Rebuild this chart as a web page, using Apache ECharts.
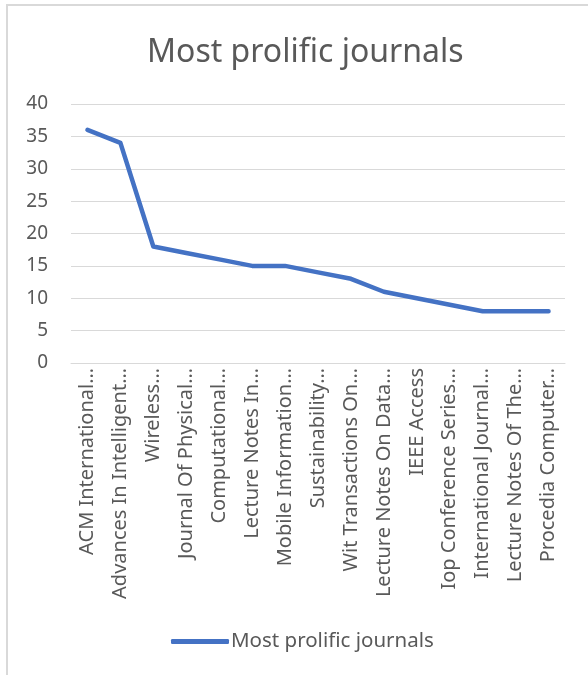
<!DOCTYPE html>
<html>
<head>
<meta charset="utf-8">
<script src="https://cdn.jsdelivr.net/npm/echarts@6/dist/echarts.min.js"></script>
<style>
  html, body { margin: 0; padding: 0; background: #fff; }
  #chart { width: 588px; height: 675px; }
</style>
</head>
<body>
<div id="chart"></div>
<script>
// Journals (labels as shown, truncated like the original)
const journals = [
  'ACM International…',
  'Advances In Intelligent…',
  'Wireless…',
  'Journal Of Physical…',
  'Computational…',
  'Lecture Notes In…',
  'Mobile Information…',
  'Sustainability…',
  'Wit Transactions On…',
  'Lecture Notes On Data…',
  'IEEE Access',
  'Iop Conference Series…',
  'International Journal…',
  'Lecture Notes Of The…',
  'Procedia Computer…'
]
const counts = [36, 34, 18, 17, 16, 15, 15, 14, 13, 11, 10, 9, 8, 8, 8]
const seriesName = 'Most prolific journals'

const TEXT = '#595959'
const GRID = '#d9d9d9'
const LINE = '#4472c4'
const FONT = 'Noto Sans'

const chart = echarts.init(document.getElementById('chart'))
chart.setOption({
  animation: false,
  textStyle: { fontFamily: FONT },
  title: {
    text: 'Most prolific journals',
    left: 142,
    top: 32,
    textStyle: { color: TEXT, fontSize: 32, fontWeight: 'normal', fontFamily: FONT }
  },
  graphic: [
    {
      type: 'rect',
      shape: { x: 7, y: 5, width: 620, height: 720 },
      style: { fill: 'none', stroke: GRID, lineWidth: 2 },
      silent: true
    }
  ],
  grid: { left: 71, right: 23, top: 104, bottom: 312 },
  legend: {
    data: [seriesName],
    left: 166,
    top: 626,
    itemWidth: 58,
    itemHeight: 5,
    itemGap: 4,
    icon: 'roundRect',
    textStyle: { color: TEXT, fontSize: 20.5, fontFamily: FONT, padding: [0, 0, 0, -3] }
  },
  xAxis: {
    type: 'category',
    data: journals,
    boundaryGap: true,
    axisLine: { lineStyle: { color: GRID, width: 1 } },
    axisTick: { show: false },
    axisLabel: {
      rotate: 90,
      interval: 0,
      margin: 5,
      color: TEXT,
      fontSize: 20,
      fontFamily: FONT
    }
  },
  yAxis: {
    type: 'value',
    min: 0,
    max: 40,
    interval: 5,
    axisLine: { show: false },
    axisTick: { show: false },
    splitLine: { lineStyle: { color: GRID, width: 1 } },
    axisLabel: { color: TEXT, fontSize: 19, fontFamily: FONT, margin: 23 }
  },
  series: [
    {
      name: seriesName,
      type: 'line',
      data: counts,
      showSymbol: false,
      symbol: 'none',
      lineStyle: { color: LINE, width: 4.5, cap: 'round', join: 'round' },
      itemStyle: { color: LINE }
    }
  ]
})
</script>
</body>
</html>
